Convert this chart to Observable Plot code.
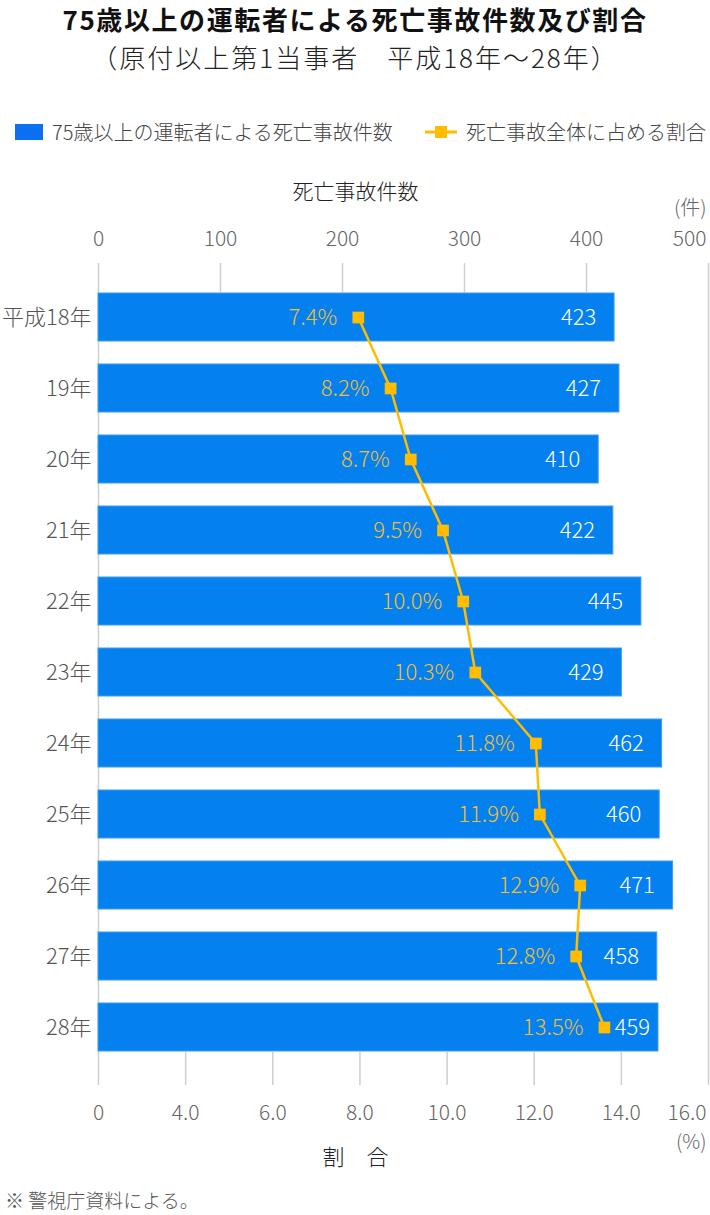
<!DOCTYPE html>
<html><head><meta charset="utf-8">
<script src="https://cdn.jsdelivr.net/npm/d3@7"></script>
<script src="https://cdn.jsdelivr.net/npm/@observablehq/plot@0.6"></script>
<style>
body{margin:0;width:710px;background:#fff;font-family:"Noto Sans CJK JP","Noto Sans",sans-serif;}
#header{height:170px;position:relative;}
#title{position:absolute;left:0;width:710px;top:0;height:38px;line-height:38px;text-align:center;font-size:26px;font-weight:700;color:#111;letter-spacing:1.6px;}
#subtitle{position:absolute;left:0;width:710px;top:38px;height:38px;line-height:38px;text-align:center;font-size:26px;font-weight:300;color:#222;letter-spacing:2px;}
.lg{position:absolute;top:120px;height:24px;line-height:24px;font-size:20px;font-weight:300;color:#444;white-space:nowrap;}
#caption{margin-top:8px;height:24px;line-height:24px;font-size:19px;font-weight:300;color:#555;padding-left:5px;}
#chart svg{display:block;}
</style></head><body>
<div id="header">
  <div id="title">75歳以上の運転者による死亡事故件数及び割合</div>
  <div id="subtitle">（原付以上第1当事者　平成18年～28年）</div>
  <div class="lg" style="left:15px;top:124px;width:28px;height:16px;background:#0a6ff0;"></div>
  <div class="lg" style="left:52px;">75歳以上の運転者による死亡事故件数</div>
  <svg class="lg" style="left:425px;top:124px;" width="32" height="16"><line x1="0" y1="8" x2="32" y2="8" stroke="#ffbc00" stroke-width="3"/><rect x="10" y="2" width="12" height="12" fill="#ffbc00"/></svg>
  <div class="lg" style="left:466px;">死亡事故全体に占める割合</div>
</div>
<div id="chart"></div>
<div id="caption">※ 警視庁資料による。</div>
<script>
// ---- data ----
const years = ["平成18年","19年","20年","21年","22年","23年","24年","25年","26年","27年","28年"];
const counts = [423, 427, 410, 422, 445, 429, 462, 460, 471, 458, 459];
const shares = [7.4, 8.2, 8.7, 9.5, 10.0, 10.3, 11.8, 11.9, 12.9, 12.8, 13.5];
const countTicks = [0, 100, 200, 300, 400, 500];
const shareTicks = [0, 4, 6, 8, 10, 12, 14, 16];
const shareTickLabels = ["0", "4.0", "6.0", "8.0", "10.0", "12.0", "14.0", "16.0"];

const rows = years.map((year, i) => ({year, count: counts[i], share: shares[i]}));

// ---- layout ----
const W = 710, H = 1010;
const mTop = 93, mBottom = 95, mLeft = 98, mRight = 2;
const frameH = H - mTop - mBottom;
const n = years.length;
const pInner = 0.326, pOuter = 0.4355, align = 0.468;
const step = frameH / (n - pInner + 2 * pOuter);
const outerTotal = frameH - step * (n - pInner);
const topStrip = outerTotal * align;
const bottomStrip = outerTotal - topStrip;

// secondary scales mapped into the count domain
const shareAxis = d3.scaleLinear().domain([0, 4, 16]).range([0, 500 * 2 / 14, 500]); // broken axis
const sharePoint = d3.scaleLinear().domain([0.96, 16.08]).range([0, 500]);

const orange = "#ffbc00";
const grid = {stroke: "#cfcfcf", strokeOpacity: 1, strokeWidth: 1.5};
const lt = {fontWeight: 300, lineAnchor: "middle"};

const chart = Plot.plot({
  width: W, height: H,
  marginTop: mTop, marginBottom: mBottom, marginLeft: mLeft, marginRight: mRight,
  style: {fontFamily: '"Noto Sans CJK JP","Noto Sans",sans-serif', color: "#555", background: "#fff"},
  x: {domain: [0, 500], axis: null},
  y: {domain: years, paddingInner: pInner, paddingOuter: pOuter, align, axis: null},
  marks: [
    Plot.gridX(countTicks.slice(1, -1), {...grid, insetBottom: frameH - topStrip}),
    Plot.gridX(shareTicks.slice(1, -1).map(shareAxis), {...grid, insetTop: frameH - bottomStrip}),
    Plot.ruleX([countTicks[0], countTicks[countTicks.length - 1]], grid),
    Plot.barX(rows, {x: "count", y: "year", fill: "#0580ef", stroke: "#3f9cf3", strokeWidth: 1}),
    Plot.line(rows, {x: d => sharePoint(d.share), y: "year", stroke: orange, strokeWidth: 2.5}),
    Plot.dot(rows, {x: d => sharePoint(d.share), y: "year", symbol: "square", r: 6.6, fill: orange}),
    Plot.text(rows, {...lt, x: d => sharePoint(d.share), y: "year", text: d => d.share.toFixed(1) + "%", textAnchor: "end", dx: -21, fill: "#f3bf2c", fontSize: 22}),
    Plot.text(rows, {...lt, x: d => Math.max(d.count - 29.5, sharePoint(d.share) + 23), y: "year", text: d => String(d.count), fill: "#fff", fontSize: 22}),
    Plot.axisY({tickSize: 0, tickPadding: 7, fontSize: 22, fontWeight: 300, label: null}),
    // top axis (counts)
    Plot.text(countTicks.slice(0, -1), {...lt, x: d => d, frameAnchor: "top", dy: -24, fontSize: 21, fill: "#666"}),
    Plot.text(countTicks.slice(-1), {...lt, x: d => d, frameAnchor: "top", dy: -24, dx: -2, textAnchor: "end", fontSize: 21, fill: "#666"}),
    Plot.text(["死亡事故件数"], {...lt, frameAnchor: "top", dy: -71, dx: -48, fontSize: 21, fill: "#222"}),
    Plot.text(["(件)"], {...lt, frameAnchor: "top-right", dy: -55, dx: -2, textAnchor: "end", fontSize: 20, fill: "#666"}),
    // bottom axis (share)
    Plot.text(shareTicks.slice(0, -1), {...lt, x: d => shareAxis(d), text: (d, i) => shareTickLabels[i], frameAnchor: "bottom", dy: 28, fontSize: 21, fill: "#666"}),
    Plot.text(shareTicks.slice(-1), {...lt, x: d => shareAxis(d), text: d => shareTickLabels[shareTicks.indexOf(d)], frameAnchor: "bottom", dy: 28, dx: -2, textAnchor: "end", fontSize: 21, fill: "#666"}),
    Plot.text(["(%)"], {...lt, frameAnchor: "bottom-right", dy: 57, dx: -2, textAnchor: "end", fontSize: 20, fill: "#666"}),
    Plot.text(["割　合"], {...lt, frameAnchor: "bottom", dy: 72, dx: -48, fontSize: 22, fill: "#222"})
  ]
});
document.getElementById("chart").appendChild(chart);
</script>
</body></html>
